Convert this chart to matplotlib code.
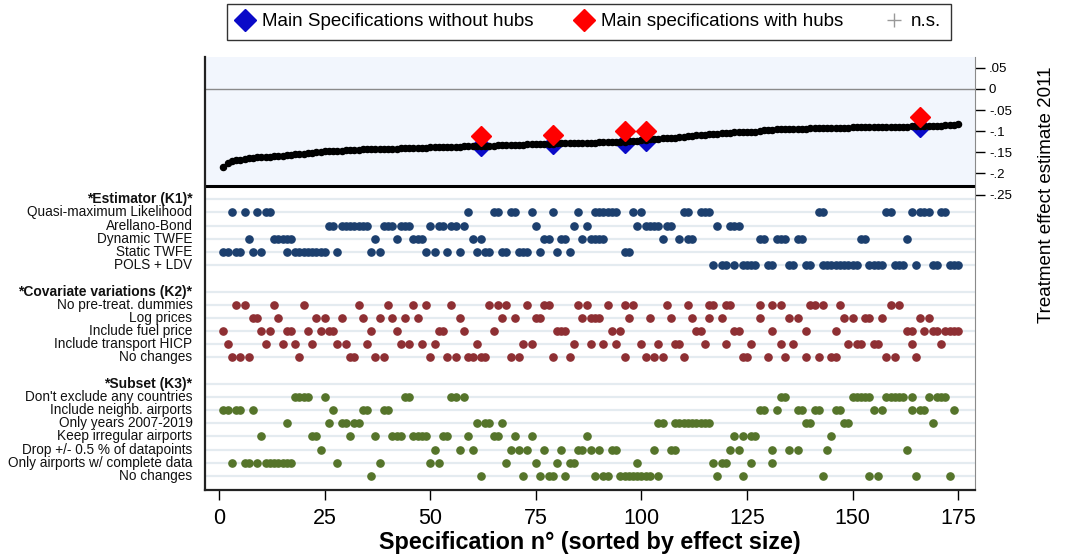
import matplotlib
matplotlib.use("Agg")
import matplotlib.pyplot as plt
from matplotlib.lines import Line2D
from matplotlib.transforms import blended_transform_factory

plt.rcParams["font.family"] = ["Liberation Sans", "DejaVu Sans"]

# effect estimates, sorted (spec 1..175)
ESTIMATES = [
    -0.184, -0.176, -0.170, -0.169, -0.169, -0.165, -0.164, -0.163, -0.162, -0.162,
    -0.161, -0.160, -0.159, -0.158, -0.158, -0.157, -0.156, -0.155, -0.154, -0.153,
    -0.152, -0.151, -0.150, -0.149, -0.148, -0.148, -0.147, -0.146, -0.146, -0.145,
    -0.145, -0.144, -0.144, -0.143, -0.143, -0.143, -0.142, -0.142, -0.142, -0.141,
    -0.141, -0.141, -0.140, -0.140, -0.140, -0.140, -0.139, -0.139, -0.139, -0.138,
    -0.138, -0.138, -0.138, -0.137, -0.137, -0.137, -0.137, -0.136, -0.136, -0.136,
    -0.135, -0.135, -0.134, -0.134, -0.134, -0.133, -0.133, -0.133, -0.132, -0.132,
    -0.132, -0.132, -0.131, -0.131, -0.131, -0.130, -0.130, -0.130, -0.130, -0.129,
    -0.129, -0.129, -0.128, -0.128, -0.128, -0.128, -0.127, -0.127, -0.127, -0.126,
    -0.126, -0.126, -0.126, -0.125, -0.125, -0.125, -0.124, -0.124, -0.123, -0.121,
    -0.120, -0.119, -0.119, -0.118, -0.117, -0.116, -0.115, -0.115, -0.114, -0.113,
    -0.112, -0.111, -0.110, -0.109, -0.108, -0.107, -0.106, -0.106, -0.105, -0.105,
    -0.104, -0.103, -0.103, -0.102, -0.102, -0.101, -0.101, -0.100, -0.097, -0.096,
    -0.096, -0.095, -0.095, -0.095, -0.095, -0.094, -0.094, -0.094, -0.094, -0.093,
    -0.093, -0.093, -0.093, -0.093, -0.092, -0.092, -0.092, -0.092, -0.092, -0.091,
    -0.091, -0.091, -0.091, -0.091, -0.090, -0.090, -0.090, -0.090, -0.090, -0.089,
    -0.089, -0.089, -0.089, -0.088, -0.088, -0.088, -0.088, -0.087, -0.087, -0.087,
    -0.087, -0.086, -0.086, -0.085, -0.083,
]

MAIN_SPECS = [62, 79, 96, 101, 166]
MAIN_NO_HUBS = [-0.136, -0.131, -0.127, -0.122, -0.091]
MAIN_WITH_HUBS = [-0.112, -0.108, -0.100, -0.100, -0.067]

# indicator rows: spec numbers where each choice is active
ESTIMATOR = {
    "Quasi-maximum Likelihood": [3, 6, 9, 11, 12, 59, 65, 66, 69, 70, 74, 79, 85, 89, 90, 91, 92, 93,
                                 94, 98, 100, 110, 111, 114, 115, 116, 142, 143, 158, 159, 164, 166,
                                 167, 168, 171, 172],
    "Arellano-Bond": [26, 27, 29, 30, 31, 32, 33, 34, 35, 39, 40, 41, 43, 44, 45, 50, 52, 53, 55, 56,
                      58, 75, 84, 87, 99, 101, 102, 103, 104, 106, 107, 118, 121, 122, 123],
    "Dynamic TWFE": [7, 13, 14, 15, 16, 17, 37, 42, 46, 47, 48, 60, 62, 77, 78, 81, 82, 86, 88, 89,
                     90, 91, 105, 109, 111, 112, 128, 129, 132, 133, 134, 137, 138, 152, 153, 163],
    "Static TWFE": [1, 2, 4, 5, 8, 10, 16, 18, 19, 20, 21, 22, 23, 24, 25, 28, 36, 38, 49, 51, 54, 57,
                    61, 63, 64, 67, 68, 71, 72, 73, 76, 80, 83, 96, 97],
    "POLS + LDV": [117, 119, 120, 122, 124, 125, 126, 127, 130, 131, 135, 136, 139, 140, 143, 144,
                   145, 146, 147, 148, 149, 150, 151, 154, 155, 156, 157, 160, 161, 162, 165, 169,
                   170, 173, 174, 175],
}
COVARIATES = {
    "No pre-treat. dummies": [4, 6, 13, 20, 33, 40, 46, 49, 55, 64, 66, 68, 73, 77, 78, 85, 87, 92,
                              96, 98, 106, 111, 116, 117, 120, 121, 128, 131, 133, 140, 141, 143,
                              147, 159, 161],
    "Log prices": [8, 9, 14, 23, 25, 29, 34, 38, 41, 44, 47, 57, 67, 70, 75, 76, 86, 88, 89, 90, 97,
                   102, 107, 112, 116, 119, 128, 135, 137, 148, 150, 153, 154, 157, 166, 168],
    "Include fuel price": [1, 10, 12, 16, 17, 21, 24, 26, 27, 36, 42, 52, 53, 58, 65, 80, 81, 82, 93,
                           95, 113, 114, 122, 123, 131, 139, 146, 163, 164, 167, 169, 170, 172, 173,
                           174, 175],
    "Include transport HICP": [2, 11, 15, 18, 22, 28, 30, 35, 43, 45, 48, 51, 61, 72, 74, 84, 88, 91,
                               94, 100, 104, 108, 109, 115, 120, 126, 133, 136, 149, 151, 152, 155,
                               156, 164, 171],
    "No changes": [3, 5, 7, 19, 31, 32, 37, 39, 50, 54, 56, 59, 60, 62, 63, 69, 71, 79, 83, 96, 101,
                   103, 105, 110, 124, 125, 130, 134, 139, 142, 145, 146, 158, 160, 165],
}
SUBSET = {
    "Don't exclude any countries": [18, 19, 20, 21, 25, 44, 45, 55, 56, 58, 133, 134, 150, 151, 152,
                                    153, 154, 158, 159, 160, 161, 162, 164, 168, 170, 171, 172],
    "Include neighb. airports": [1, 2, 4, 5, 8, 27, 34, 35, 39, 40, 128, 129, 132, 137, 138, 141, 142,
                                 146, 147, 155, 157, 164, 166, 167, 174],
    "Only years 2007-2019": [16, 26, 29, 30, 32, 33, 61, 63, 64, 67, 104, 105, 108, 109, 110, 111,
                             112, 113, 114, 115, 116, 139, 140, 148, 149, 169],
    "Keep irregular airports": [10, 22, 23, 31, 37, 41, 42, 43, 46, 47, 48, 49, 53, 54, 59, 65, 66,
                                70, 74, 87, 122, 124, 126, 127, 145],
    "Drop +/- 0.5 % of datapoints": [24, 51, 57, 60, 69, 71, 73, 77, 81, 85, 86, 88, 90, 93, 94, 103,
                                     107, 108, 121, 123, 131, 135, 137, 144, 163],
    "Only airports w/ complete data": [3, 6, 7, 9, 11, 12, 13, 14, 15, 16, 17, 28, 38, 50, 52, 68, 75,
                                       80, 83, 84, 99, 117, 119, 120, 126, 131],
    "No changes": [36, 62, 72, 76, 78, 79, 82, 89, 91, 92, 95, 96, 97, 98, 99, 100, 101, 102, 104,
                   118, 124, 143, 154, 156, 165, 173],
}
GROUPS = [
    ("Estimator (K1)", ESTIMATOR, "#1c3f6e"),
    ("Covariate variations (K2)", COVARIATES, "#8e2f33"),
    ("Subset (K3)", SUBSET, "#55742a"),
]

YTICKS = [0.05, 0, -0.05, -0.1, -0.15, -0.2, -0.25]
YTICK_LABELS = [".05", "0", "-.05", "-.1", "-.15", "-.2", "-.25"]
XTICKS = [0, 25, 50, 75, 100, 125, 150, 175]

PANEL_TOP, PANEL_SPLIT = 0.0758, -0.230
ROW_STEP = 0.0312

fig = plt.figure(figsize=(10.78, 5.57), dpi=100)
ax = fig.add_axes([0.190, 0.120, 0.7145, 0.7777])
ax.set_xlim(-3.4, 179.0)
ax.set_ylim(-0.950, PANEL_TOP)

ax.axhspan(PANEL_SPLIT, PANEL_TOP, color="#f2f6fd", zorder=0)
ax.axhline(0, color="#8a8a8a", lw=1.0, zorder=1)
ax.axhline(PANEL_SPLIT, color="black", lw=2.2, zorder=2)

specs = list(range(1, len(ESTIMATES) + 1))
ax.plot(specs, ESTIMATES, "o", color="black", markersize=4.4, zorder=4)
ax.plot(MAIN_SPECS, MAIN_NO_HUBS, "D", color="#0a0ac8", markersize=10.5, zorder=3)
ax.plot(MAIN_SPECS, MAIN_WITH_HUBS, "D", color="#ff0000", markersize=10.5, zorder=5)

lab_tr = blended_transform_factory(ax.transAxes, ax.transData)
k = 0
for title, rows, col in GROUPS:
    y = PANEL_SPLIT - (k + 1) * ROW_STEP
    ax.axhline(y, color="#e4ebf0", lw=1.6, zorder=1)
    ax.text(-0.016, y, "*" + title + "*", transform=lab_tr, ha="right", va="center",
            fontsize=10, fontweight="bold", color="#111111")
    k += 1
    for name, xs in rows.items():
        y = PANEL_SPLIT - (k + 1) * ROW_STEP
        ax.axhline(y, color="#e4ebf0", lw=1.6, zorder=1)
        ax.plot(xs, [y] * len(xs), "o", color=col, markersize=5.2, zorder=3)
        ax.text(-0.016, y, name, transform=lab_tr, ha="right", va="center",
                fontsize=9.8, color="#111111")
        k += 1
    k += 1

ax.yaxis.tick_right()
ax.set_yticks(YTICKS)
ax.set_yticklabels(YTICK_LABELS, fontsize=9.5)
ax.tick_params(axis="y", length=7, width=1, pad=3)
ax.set_xticks(XTICKS)
ax.tick_params(axis="x", length=7, width=1, labelsize=15.5, pad=6)
ax.set_xlabel("Specification n° (sorted by effect size)", fontsize=16.8, fontweight="bold",
              labelpad=1)

for side in ["left", "bottom"]:
    ax.spines[side].set_linewidth(1.6)
    ax.spines[side].set_color("#222222")
ax.spines["right"].set_color("#8a8a8a")
ax.spines["top"].set_visible(False)

fig.text(0.971, 0.65, "Treatment effect estimate 2011", rotation=90, ha="center", va="center",
         fontsize=13.5)

handles = [
    Line2D([], [], marker="D", color="#0a0ac8", ls="none", markersize=11),
    Line2D([], [], marker="D", color="#ff0000", ls="none", markersize=11),
    Line2D([], [], marker="+", color="#999999", ls="none", markersize=10),
]
fig.legend(handles, ["Main Specifications without hubs", "Main specifications with hubs", "n.s."],
           loc="center", bbox_to_anchor=(0.546, 0.961), ncol=3, frameon=True, fancybox=False,
           edgecolor="black", fontsize=13.5, handlelength=1.0, handletextpad=0.4,
           columnspacing=2.2, borderpad=0.5)

fig.savefig("out.png", dpi=100)
